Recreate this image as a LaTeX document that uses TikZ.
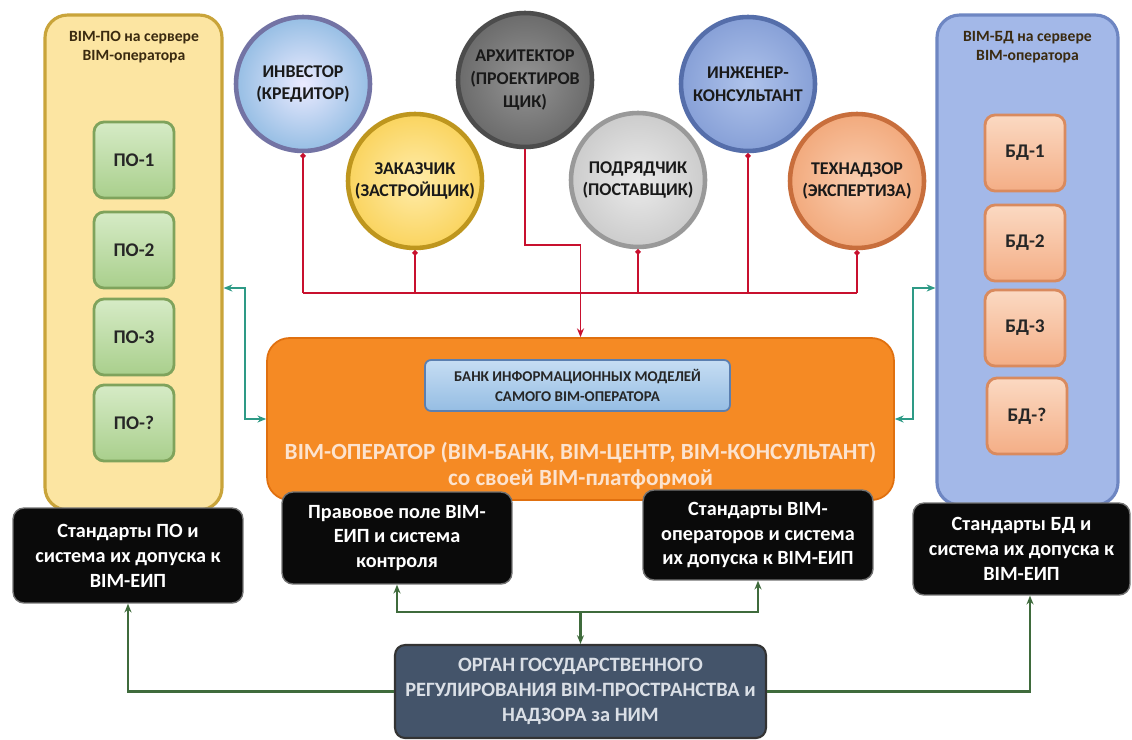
\documentclass[tikz,border=0pt]{standalone}
\usepackage{fontspec}
\setmainfont{Carlito}
\usetikzlibrary{arrows.meta}

\definecolor{paleY}{HTML}{FCE5A2}
\definecolor{goldD}{HTML}{C9A43A}
\definecolor{paleB}{HTML}{A3B8E8}
\definecolor{blueD}{HTML}{6E86C2}
\definecolor{gTop}{HTML}{D6EBC6}
\definecolor{gBot}{HTML}{A9CF8C}
\definecolor{gEdge}{HTML}{7FA35C}
\definecolor{oTop}{HTML}{FBD9C2}
\definecolor{oBot}{HTML}{F4AE86}
\definecolor{oEdge}{HTML}{D98A5E}
\definecolor{operFill}{HTML}{F58A24}
\definecolor{operEdge}{HTML}{E0700F}
\definecolor{operText}{HTML}{FCE3CF}
\definecolor{bankTop}{HTML}{C6DDF3}
\definecolor{bankBot}{HTML}{95BDE3}
\definecolor{bankEdge}{HTML}{5B7FB0}
\definecolor{govFill}{HTML}{44546A}
\definecolor{govText}{HTML}{DADFE6}
\definecolor{redLine}{HTML}{C8102E}
\definecolor{tealLine}{HTML}{2E9A86}
\definecolor{greenLine}{HTML}{3F6B3C}
\definecolor{titleT}{HTML}{3A2A10}

\tikzset{
  panel/.style={rounded corners=0.45cm, line width=1.8pt, inner sep=0pt},
  paneltitle/.style={font=\bfseries\fontsize{8.9}{10.6}\selectfont, align=center, text=titleT},
  tile/.style={rounded corners=0.2cm, minimum width=1.6cm, minimum height=1.52cm,
    line width=1.6pt, inner sep=0pt, text=black!85,
    font=\bfseries\fontsize{11}{13}\selectfont},
  swtile/.style={tile, draw=gEdge, top color=gTop, bottom color=gBot},
  dbtile/.style={tile, draw=oEdge, top color=oTop, bottom color=oBot},
  actor/.style={circle, minimum size=2.68cm, line width=2.6pt, inner sep=0pt,
    align=center, text=black!90, font=\bfseries\fontsize{10.2}{13}\selectfont},
  darkbox/.style={rounded corners=0.22cm, fill=black!96, draw=black!55, line width=0.8pt,
    text=white, align=center, inner sep=0pt, font=\bfseries\fontsize{11.5}{14.2}\selectfont},
  redln/.style={draw=redLine, line width=1.1pt},
  tealln/.style={draw=tealLine, line width=1.1pt, {Stealth[length=5pt,width=4pt]}-{Stealth[length=5pt,width=4pt]}},
  greenln/.style={draw=greenLine, line width=1.3pt},
  tip/.style={-{Stealth[length=5pt,width=4pt]}},
  dot/.style={{Circle[length=3pt]}-}
}

\begin{document}
\begin{tikzpicture}[x=0.02cm, y=-0.02cm]
\useasboundingbox[fill=white] (0,0) rectangle (1132,740);

% side panels with their tiles
\node[panel, draw=goldD, fill=paleY, minimum width=3.54cm, minimum height=9.9cm] (swpanel) at (133.5,262.5) {};
\node[paneltitle] (swtitle) at (134,47) {BIM-ПО на сервере\\BIM-оператора};
\node[swtile] (po1) at (134,160) {ПО-1};
\node[swtile] (po2) at (134,250) {ПО-2};
\node[swtile] (po3) at (134,337) {ПО-3};
\node[swtile] (po4) at (134,423) {ПО-?};

\node[panel, draw=blueD, fill=paleB, minimum width=3.62cm, minimum height=9.8cm] (dbpanel) at (1027.5,260) {};
\node[paneltitle] (dbtitle) at (1027.5,47) {BIM-БД на сервере\\BIM-оператора};
\node[dbtile] (db1) at (1025,153) {БД-1};
\node[dbtile] (db2) at (1025,243) {БД-2};
\node[dbtile] (db3) at (1025,328) {БД-3};
\node[dbtile] (db4) at (1027,416) {БД-?};

% participants
\node[actor, draw=blue!35!black!55, inner color=blue!8!white, outer color={rgb,255:red,150;green,190;blue,228}] (inv) at (303,84) {ИНВЕСТОР\\(КРЕДИТОР)};
\node[actor, draw={rgb,255:red,190;green,150;blue,30}, inner color={rgb,255:red,255;green,236;blue,170}, outer color={rgb,255:red,250;green,212;blue,95}] (cust) at (415,181) {ЗАКАЗЧИК\\(ЗАСТРОЙЩИК)};
\node[actor, draw=black!70, inner color=black!42, outer color=black!58] (arch) at (525,80) {АРХИТЕКТОР\\(ПРОЕКТИРОВ\\ЩИК)};
\node[actor, draw=black!40, inner color=black!8, outer color=black!20] (contr) at (638,180) {ПОДРЯДЧИК\\(ПОСТАВЩИК)};
\node[actor, draw={rgb,255:red,85;green,110;blue,170}, inner color={rgb,255:red,175;green,195;blue,235}, outer color={rgb,255:red,135;green,160;blue,215}] (eng) at (748,84) {ИНЖЕНЕР-\\КОНСУЛЬТАНТ};
\node[actor, draw={rgb,255:red,200;green,110;blue,60}, inner color={rgb,255:red,250;green,205;blue,175}, outer color={rgb,255:red,242;green,170;blue,125}] (tech) at (857,181) {ТЕХНАДЗОР\\(ЭКСПЕРТИЗА)};

% BIM operator
\node[rounded corners=0.45cm, fill=operFill, draw=operEdge, line width=1pt,
      minimum width=12.54cm, minimum height=3.24cm, inner sep=0pt] (oper) at (580.5,419) {};
\node[rounded corners=0.12cm, draw=bankEdge, line width=1pt, top color=bankTop, bottom color=bankBot,
      minimum width=6.1cm, minimum height=1.02cm, inner sep=0pt, align=center,
      font=\bfseries\fontsize{8.5}{11.5}\selectfont, text=black!85] (bank) at (577.5,385.5)
      {БАНК ИНФОРМАЦИОННЫХ МОДЕЛЕЙ\\САМОГО BIM-ОПЕРАТОРА};
\node[align=center, text=operText, font=\bfseries\fontsize{13.2}{15}\selectfont] (opertext) at (580.5,466)
      {BIM-ОПЕРАТОР (BIM-БАНК, BIM-ЦЕНТР, BIM-КОНСУЛЬТАНТ)\\со своей BIM-платформой};

% red links from participants to the operator
\coordinate (bus) at (0,293);
\coordinate (archbend) at (0,245);
\draw[redln] (inv.south |- bus) -- (tech.south |- bus);
\draw[redln, dot] (inv.south) -- (inv.south |- bus);
\draw[redln, dot] (cust.south) -- (cust.south |- bus);
\draw[redln, dot] (contr.south) -- (contr.south |- bus);
\draw[redln, dot] (eng.south) -- (eng.south |- bus);
\draw[redln, dot] (tech.south) -- (tech.south |- bus);
\draw[redln, dot, tip] (arch.south) -- (arch.south |- archbend) -- (oper.north |- archbend) -- (oper.north);

% standards and regulation boxes
\node[darkbox, minimum width=4.6cm, minimum height=1.9cm] (stdsw) at (128,555.5)
      {Стандарты ПО и\\система их допуска к\\BIM-ЕИП};
\node[darkbox, minimum width=4.34cm, minimum height=1.84cm] (stddb) at (1021.5,549)
      {Стандарты БД и\\система их допуска к\\BIM-ЕИП};
\node[darkbox, minimum width=4.6cm, minimum height=1.84cm] (law) at (397,538)
      {Правовое поле BIM-\\ЕИП и система\\контроля};
\node[darkbox, minimum width=4.6cm, minimum height=1.8cm] (stdop) at (758,535)
      {Стандарты BIM-\\операторов и система\\их допуска к BIM-ЕИП};

\node[rounded corners=0.2cm, fill=govFill, draw=black!80, line width=1.2pt,
      minimum width=7.42cm, minimum height=1.86cm, inner sep=0pt, align=center,
      text=govText, font=\bfseries\fontsize{11.6}{14.4}\selectfont] (gov) at (580.5,691.5)
      {ОРГАН ГОСУДАРСТВЕННОГО\\РЕГУЛИРОВАНИЯ BIM-ПРОСТРАНСТВА и\\НАДЗОРА за НИМ};

% exchange between the servers and the operator
\coordinate (row) at (0,288);
\coordinate (jogL) at (245,0);
\coordinate (jogR) at (913,0);
\draw[tealln] (swpanel.east |- row) -- (jogL |- row) -- (jogL |- oper.west) -- (oper.west);
\draw[tealln] (oper.east) -- (jogR |- oper.east) -- (jogR |- row) -- (dbpanel.west |- row);

% regulation links
\coordinate (gbus) at (0,612);
\draw[greenln, {Stealth[length=5pt,width=4pt]}-{Stealth[length=5pt,width=4pt]}]
  (law.south) -- (law.south |- gbus) -- (stdop.south |- gbus) -- (stdop.south);
\draw[greenln, tip] (gov.north |- gbus) -- (gov.north);
\draw[greenln, tip] (gov.west) -- (stdsw.south |- gov.west) -- (stdsw.south);
\coordinate (rx) at (1030,0);
\draw[greenln, tip] (gov.east) -- (rx |- gov.east) -- (rx |- stddb.south);
\end{tikzpicture}
\end{document}
